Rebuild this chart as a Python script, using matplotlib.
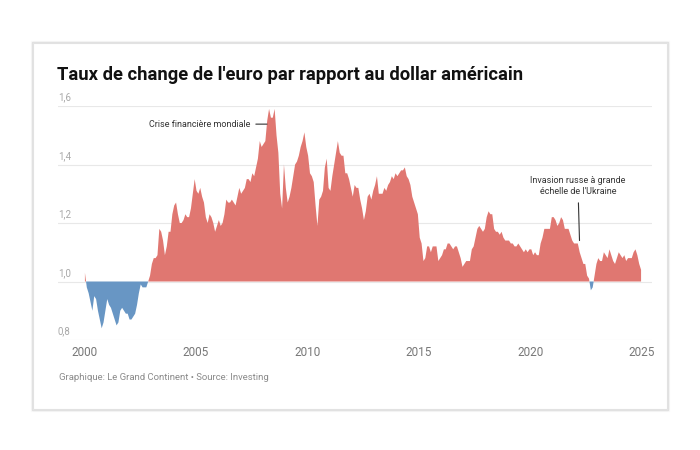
import numpy as np
import matplotlib
matplotlib.use("Agg")
import matplotlib.pyplot as plt
from matplotlib.patches import Rectangle

plt.rcParams['font.family'] = ['Roboto', 'DejaVu Sans']

# taux EUR/USD, une valeur par mois (janv. 2000 -> déc. 2024)
years = list(range(2000, 2025))
rate_2000_2004 = [
    1.03, 0.98, 0.96, 0.93, 0.90, 0.95, 0.94, 0.90, 0.87, 0.84, 0.86, 0.90,
    0.94, 0.92, 0.91, 0.89, 0.87, 0.85, 0.86, 0.90, 0.91, 0.90, 0.89, 0.89,
    0.87, 0.87, 0.88, 0.89, 0.92, 0.96, 0.99, 0.98, 0.98, 0.98, 1.00, 1.02,
    1.06, 1.08, 1.08, 1.09, 1.18, 1.17, 1.14, 1.09, 1.12, 1.17, 1.17, 1.23,
    1.26, 1.27, 1.23, 1.20, 1.20, 1.21, 1.23, 1.22, 1.22, 1.25, 1.30, 1.35,
]
rate_2005_2009 = [
    1.31, 1.30, 1.32, 1.29, 1.27, 1.22, 1.20, 1.23, 1.22, 1.20, 1.17, 1.19,
    1.21, 1.19, 1.20, 1.23, 1.28, 1.27, 1.27, 1.28, 1.27, 1.26, 1.29, 1.32,
    1.30, 1.31, 1.32, 1.35, 1.35, 1.34, 1.37, 1.36, 1.39, 1.42, 1.48, 1.46,
    1.47, 1.48, 1.55, 1.59, 1.56, 1.56, 1.59, 1.50, 1.44, 1.30, 1.25, 1.40,
    1.32, 1.27, 1.29, 1.32, 1.36, 1.40, 1.41, 1.43, 1.46, 1.48, 1.51, 1.46,
]
rate_2010_2014 = [
    1.43, 1.37, 1.36, 1.34, 1.26, 1.19, 1.28, 1.29, 1.31, 1.39, 1.42, 1.32,
    1.31, 1.36, 1.40, 1.44, 1.48, 1.44, 1.43, 1.43, 1.37, 1.37, 1.35, 1.32,
    1.29, 1.33, 1.32, 1.32, 1.28, 1.25, 1.21, 1.24, 1.29, 1.30, 1.28, 1.31,
    1.33, 1.36, 1.30, 1.30, 1.30, 1.32, 1.31, 1.33, 1.34, 1.36, 1.35, 1.37,
    1.36, 1.37, 1.38, 1.38, 1.39, 1.36, 1.35, 1.33, 1.29, 1.27, 1.25, 1.23,
]
rate_2015_2019 = [
    1.15, 1.13, 1.07, 1.08, 1.12, 1.12, 1.10, 1.12, 1.12, 1.12, 1.07, 1.08,
    1.09, 1.11, 1.11, 1.13, 1.13, 1.12, 1.11, 1.12, 1.12, 1.10, 1.08, 1.05,
    1.06, 1.07, 1.07, 1.07, 1.11, 1.12, 1.15, 1.18, 1.19, 1.18, 1.17, 1.18,
    1.22, 1.24, 1.23, 1.23, 1.18, 1.17, 1.17, 1.16, 1.17, 1.15, 1.14, 1.14,
    1.14, 1.13, 1.13, 1.12, 1.12, 1.13, 1.12, 1.11, 1.10, 1.11, 1.10, 1.11,
]
rate_2020_2024 = [
    1.11, 1.09, 1.10, 1.09, 1.09, 1.13, 1.15, 1.18, 1.18, 1.18, 1.18, 1.22,
    1.22, 1.21, 1.19, 1.20, 1.22, 1.21, 1.18, 1.18, 1.18, 1.16, 1.14, 1.13,
    1.13, 1.13, 1.10, 1.08, 1.06, 1.06, 1.02, 1.01, 0.97, 0.98, 1.02, 1.06,
    1.08, 1.07, 1.07, 1.10, 1.09, 1.08, 1.11, 1.09, 1.07, 1.06, 1.08, 1.10,
    1.09, 1.08, 1.09, 1.07, 1.08, 1.08, 1.08, 1.10, 1.11, 1.09, 1.06, 1.04,
]
rate = np.array(rate_2000_2004 + rate_2005_2009 + rate_2010_2014
                + rate_2015_2019 + rate_2020_2024)
t = np.array([y + (m + 0.5) / 12 for y in years for m in range(12)])

yticks = [0.8, 1.0, 1.2, 1.4, 1.6]
ylabels = ['0,8', '1,0', '1,2', '1,4', '1,6']
xticks = [2000, 2005, 2010, 2015, 2020, 2025]

red = '#e07771'
blue = '#6896c4'

fig = plt.figure(figsize=(7, 4.5), dpi=100)
fig.patch.set_facecolor('white')

# carte avec ombre légère
for i, a in enumerate([0.025, 0.045, 0.07]):
    dx = (3 - i) * 0.0009
    dy = (3 - i) * 0.0014
    fig.patches.append(Rectangle((33/700 - dx, 1 - 409/450 - dy),
                                 634/700 + 2*dx, 366/450 + 2*dy,
                                 transform=fig.transFigure, facecolor='none',
                                 edgecolor='#000000', alpha=a, lw=1.0, zorder=0))
fig.patches.append(Rectangle((33/700, 1 - 409/450), 634/700, 366/450,
                             transform=fig.transFigure, facecolor='white',
                             edgecolor='#e2e2e2', lw=0.8, zorder=1))

ax = fig.add_axes([58/700, 1 - 340/450, 594/700, 234/450])
ax.set_facecolor('none')
ax.set_zorder(2)

ax.set_xlim(2000 - 26/22.32, 2025 + 10/22.32)
ax.set_ylim(0.8, 1.6)

for v, lab in zip(yticks, ylabels):
    ax.axhline(v, color='#e8e8e8', lw=0.8, zorder=1)
    ax.annotate(lab, (0, v), xycoords=('axes fraction', 'data'),
                xytext=(0, 2.5), textcoords='offset points',
                ha='left', va='bottom', fontsize=7, color='#a8a8a8')

ax.fill_between(t, 1.0, rate, where=rate >= 1.0, interpolate=True,
                color=red, lw=0, zorder=2)
ax.fill_between(t, 1.0, rate, where=rate <= 1.0, interpolate=True,
                color=blue, lw=0, zorder=2)

ax.set_xticks(xticks)
ax.set_xticklabels([str(x) for x in xticks], fontsize=8.5, color='#777777')
ax.tick_params(axis='x', length=0, pad=4)
ax.set_yticks([])
for s in ax.spines.values():
    s.set_visible(False)

ax.annotate('Crise financière mondiale', xy=(2008.2, 1.538), xytext=(2007.45, 1.538),
            ha='right', va='center', fontsize=6.5, color='#333333',
            arrowprops=dict(arrowstyle='-', color='#333333', lw=0.8,
                            shrinkA=2, shrinkB=0), zorder=4)
ax.annotate("Invasion russe à grande\néchelle de l'Ukraine", xy=(2022.2, 1.14),
            xytext=(2022.13, 1.327), ha='center', va='center', fontsize=6.5,
            color='#333333', linespacing=1.3,
            arrowprops=dict(arrowstyle='-', color='#333333', lw=0.8,
                            shrinkA=3, shrinkB=0), zorder=4)

fig.text(57/700, 1 - 75/450, "Taux de change de l'euro par rapport au dollar américain",
         fontsize=13.2, fontweight='bold', color='#111111', va='center', ha='left',
         zorder=3)
fig.text(59/700, 1 - 377/450, 'Graphique: Le Grand Continent • Source: Investing',
         fontsize=6.8, color='#8a8a8a', va='center', ha='left', zorder=3)

fig.savefig('out.png', dpi=100, facecolor='white')
